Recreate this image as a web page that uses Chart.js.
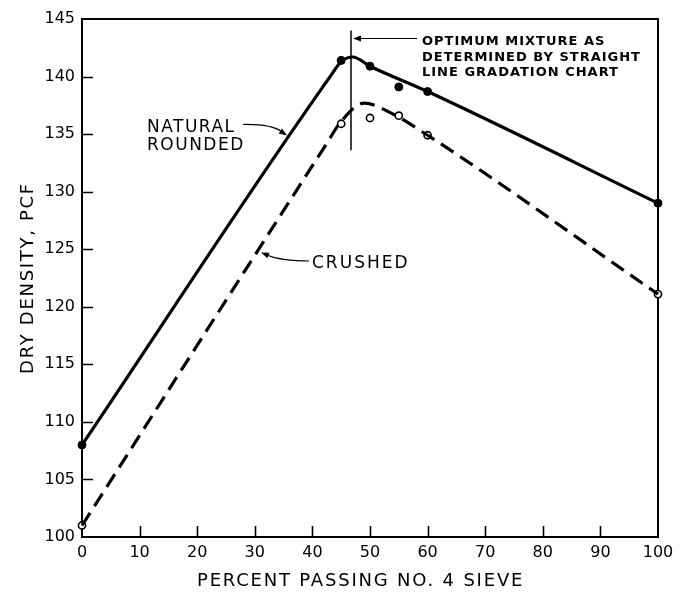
<!DOCTYPE html>
<html>
<head>
<meta charset="utf-8">
<title>Dry density vs percent passing No. 4 sieve</title>
<script src="https://cdn.jsdelivr.net/npm/chart.js@4.4.1/dist/chart.umd.min.js"></script>
<style>
  html, body { margin: 0; padding: 0; background: #fff; }
  #wrap { width: 686px; height: 592px; position: relative; }
</style>
</head>
<body>
<div id="wrap"><canvas id="densityChart"></canvas></div>
<script>
// tested mixes: percent passing No. 4 sieve vs dry density, pcf
const passing = [0, 45, 50, 55, 60, 100];
const naturalDensity = [108.0, 141.4, 140.9, 139.1, 138.7, 129.0];
const crushedDensity = [101.0, 135.9, 136.4, 136.6, 134.9, 121.1];

// faired curves drawn through the tests
const naturalCurveX = [0, 43.5, 45, 47, 50, 60, 100];
const naturalCurveY = [108.0, 140.3, 141.3, 141.7, 140.9, 138.7, 129.0];
const crushedCurveX = [0, 42, 45, 49, 53, 60, 100];
const crushedCurveY = [101.0, 133.8, 136.1, 137.7, 137.0, 134.9, 121.1];

const xTicks = [0, 10, 20, 30, 40, 50, 60, 70, 80, 90, 100];
const yTicks = [100, 105, 110, 115, 120, 125, 130, 135, 140, 145];

// optimum mixture from the straight line gradation chart
const optimumX = 46.7;
const optimumSpan = [133.6, 144.0];

const FONT = "'DejaVu Sans', sans-serif";

function pairs(xs, ys) {
  return xs.map((v, i) => ({ x: v, y: ys[i] }));
}

function arrowHead(ctx, tipX, tipY, fromX, fromY, len, half) {
  const a = Math.atan2(tipY - fromY, tipX - fromX);
  const bx = tipX - len * Math.cos(a), by = tipY - len * Math.sin(a);
  ctx.beginPath();
  ctx.moveTo(tipX, tipY);
  ctx.lineTo(bx + half * Math.sin(a), by - half * Math.cos(a));
  ctx.lineTo(bx - half * Math.sin(a), by + half * Math.cos(a));
  ctx.closePath();
  ctx.fill();
}

function spacedText(ctx, str, x, y, font, spacing) {
  ctx.font = font;
  ctx.letterSpacing = spacing;
  ctx.fillText(str, x, y);
}

const framePlugin = {
  id: 'frame',
  beforeDatasetsDraw(chart) {
    const { ctx, chartArea: a, scales: { x, y } } = chart;
    ctx.save();
    ctx.strokeStyle = '#000';
    ctx.lineWidth = 2;
    ctx.strokeRect(a.left, a.top, a.right - a.left, a.bottom - a.top);
    // tick marks point into the plot
    ctx.lineWidth = 1.6;
    ctx.beginPath();
    xTicks.slice(1, -1).forEach(v => {
      const px = Math.round(x.getPixelForValue(v)) + 0.5;
      ctx.moveTo(px, a.bottom);
      ctx.lineTo(px, a.bottom - 11);
    });
    yTicks.slice(1, -1).forEach(v => {
      const py = Math.round(y.getPixelForValue(v)) + 0.5;
      ctx.moveTo(a.left, py);
      ctx.lineTo(a.left + 11, py);
    });
    ctx.stroke();
    ctx.restore();
  },
  afterDatasetsDraw(chart) {
    const { ctx, scales: { x, y } } = chart;
    ctx.save();
    ctx.fillStyle = '#000';
    ctx.strokeStyle = '#000';

    // optimum line and its note
    const ox = x.getPixelForValue(optimumX);
    ctx.lineWidth = 1.5;
    ctx.beginPath();
    ctx.moveTo(ox, y.getPixelForValue(optimumSpan[0]));
    ctx.lineTo(ox, y.getPixelForValue(optimumSpan[1]));
    ctx.stroke();

    const ay = 38.5;
    ctx.lineWidth = 1.2;
    ctx.beginPath();
    ctx.moveTo(417, ay);
    ctx.lineTo(ox + 6, ay);
    ctx.stroke();
    arrowHead(ctx, ox + 2, ay, 417, ay, 8, 3);

    ctx.textAlign = 'left';
    ctx.textBaseline = 'alphabetic';
    const noteFont = 'bold 13px ' + FONT;
    spacedText(ctx, 'OPTIMUM MIXTURE AS', 422, 45, noteFont, '1px');
    spacedText(ctx, 'DETERMINED BY STRAIGHT', 422, 60.5, noteFont, '1px');
    spacedText(ctx, 'LINE GRADATION CHART', 422, 76, noteFont, '1px');

    // curve labels
    const labelFont = '17px ' + FONT;
    spacedText(ctx, 'NATURAL', 147, 132, labelFont, '1.5px');
    spacedText(ctx, 'ROUNDED', 147, 150, labelFont, '1.5px');
    spacedText(ctx, 'CRUSHED', 312, 267.5, labelFont, '2px');

    ctx.lineWidth = 1.2;
    ctx.beginPath();
    ctx.moveTo(243, 124.5);
    ctx.quadraticCurveTo(272, 124, 282, 132);
    ctx.stroke();
    arrowHead(ctx, 287, 135.5, 276, 128, 8, 3);

    ctx.beginPath();
    ctx.moveTo(309, 261);
    ctx.quadraticCurveTo(282, 261, 268, 255.5);
    ctx.stroke();
    arrowHead(ctx, 261, 252.5, 275, 258, 8, 3);

    // axis titles
    const titleFont = '18px ' + FONT;
    spacedText(ctx, 'PERCENT PASSING NO. 4 SIEVE', 197, 585.5, titleFont, '1.8px');
    ctx.translate(33, 278);
    ctx.rotate(-Math.PI / 2);
    ctx.textAlign = 'center';
    spacedText(ctx, 'DRY DENSITY, PCF', 0, 0, titleFont, '1.7px');
    ctx.restore();
  }
};

new Chart(document.getElementById('densityChart'), {
  type: 'scatter',
  data: {
    datasets: [
      {
        label: 'Natural rounded curve',
        data: pairs(naturalCurveX, naturalCurveY),
        showLine: true,
        borderColor: '#000',
        borderWidth: 3.2,
        pointRadius: 0,
        cubicInterpolationMode: 'monotone',
        clip: false
      },
      {
        label: 'Crushed curve',
        data: pairs(crushedCurveX, crushedCurveY),
        showLine: true,
        borderColor: '#000',
        borderWidth: 3.2,
        borderDash: [15, 8],
        pointRadius: 0,
        cubicInterpolationMode: 'monotone',
        clip: false
      },
      {
        label: 'Natural rounded',
        data: pairs(passing, naturalDensity),
        showLine: false,
        pointRadius: 4,
        pointBackgroundColor: '#000',
        pointBorderColor: '#000',
        pointBorderWidth: 1,
        clip: false
      },
      {
        label: 'Crushed',
        data: pairs(passing, crushedDensity),
        showLine: false,
        pointRadius: 3.6,
        pointBackgroundColor: '#fff',
        pointBorderColor: '#000',
        pointBorderWidth: 1.6,
        clip: false
      }
    ]
  },
  options: {
    responsive: true,
    maintainAspectRatio: false,
    animation: false,
    layout: { padding: { top: 19, right: 28, left: 0, bottom: 0 } },
    plugins: {
      legend: { display: false },
      tooltip: { enabled: false }
    },
    scales: {
      x: {
        type: 'linear',
        min: 0,
        max: 100,
        afterBuildTicks: s => { s.ticks = xTicks.map(v => ({ value: v })); },
        afterFit: s => { s.height = 55; },
        grid: { display: false, drawTicks: false },
        border: { display: false },
        ticks: {
          padding: 6,
          color: '#000',
          maxRotation: 0,
          autoSkip: false,
          font: { family: FONT, size: 16 }
        }
      },
      y: {
        type: 'linear',
        min: 100,
        max: 145,
        afterBuildTicks: s => { s.ticks = yTicks.map(v => ({ value: v })); },
        afterFit: s => { s.width = 82; },
        grid: { display: false, drawTicks: false },
        border: { display: false },
        ticks: {
          padding: 7,
          color: '#000',
          autoSkip: false,
          font: { family: FONT, size: 16 }
        }
      }
    }
  },
  plugins: [framePlugin]
});
</script>
</body>
</html>
